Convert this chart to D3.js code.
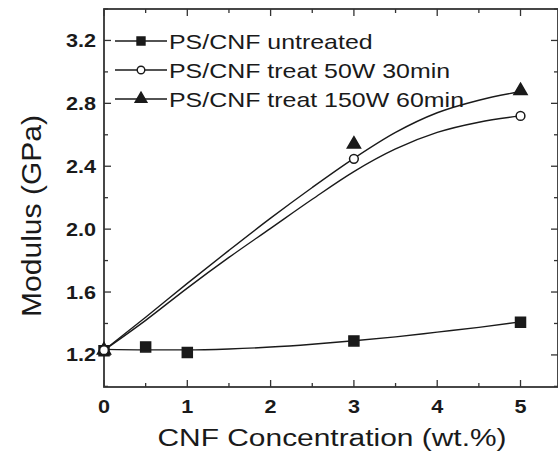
<!DOCTYPE html>
<html><head><meta charset="utf-8">
<script src="https://cdn.jsdelivr.net/npm/d3@7"></script>
<style>body{margin:0;background:#fff}svg{display:block}</style>
</head><body><svg id="c" width="558" height="455"></svg>
<script>
// measured data points
const seriesNames = ["PS/CNF untreated", "PS/CNF treat 50W 30min", "PS/CNF treat 150W 60min"];
const untreatedX = [0, 0.5, 1, 3, 5];
const untreatedY = [1.226, 1.251, 1.215, 1.289, 1.408];
const treat50X = [0, 3, 5];
const treat50Y = [1.23, 2.447, 2.72];
const treat150X = [0, 3, 5];
const treat150Y = [1.23, 2.54, 2.88];
// fitted curves
const fitX = [0, 0.5, 1, 1.5, 2, 2.5, 3, 3.5, 4, 4.5, 5];
const fitUntreated = [1.235, 1.232, 1.232, 1.238, 1.25, 1.268, 1.29, 1.315, 1.345, 1.375, 1.41];
const fit50 = [1.23, 1.42, 1.625, 1.82, 2.005, 2.19, 2.366, 2.51, 2.615, 2.68, 2.72];
const fit150 = [1.23, 1.44, 1.655, 1.865, 2.07, 2.265, 2.45, 2.615, 2.74, 2.82, 2.875];
const xTicks = [0, 1, 2, 3, 4, 5];
const yTicks = [1.2, 1.6, 2.0, 2.4, 2.8, 3.2];

const svg = d3.select("#c");
const L = 104, R = 558, T = 9, B = 387;
const x = d3.scaleLinear().domain([0, 5.45]).range([L, R]);
const y = d3.scaleLinear().domain([0.996, 3.4]).range([B, T]);
const ink = "#1a1a1a";
const FONT = "Liberation Sans, Arial, sans-serif";

function stretch(sel, k) {
  sel.each(function () {
    const w = this.getComputedTextLength();
    d3.select(this).attr("textLength", w * k).attr("lengthAdjust", "spacingAndGlyphs");
  });
}

// frame
svg.append("rect").attr("x", L).attr("y", T).attr("width", R - L).attr("height", B - T)
  .attr("fill", "none").attr("stroke", "#333").attr("stroke-width", 1.8);

const xMinor = d3.range(0.5, 5.5, 1);
const yMinor = d3.range(1.0, 3.41, 0.4).map(v => +v.toFixed(2));
const g = svg.append("g").attr("stroke", "#333").attr("stroke-width", 1.3);
xTicks.forEach(v => {
  g.append("line").attr("x1", x(v)).attr("x2", x(v)).attr("y1", B).attr("y2", B - 7);
  g.append("line").attr("x1", x(v)).attr("x2", x(v)).attr("y1", T).attr("y2", T + 7);
});
xMinor.forEach(v => {
  g.append("line").attr("x1", x(v)).attr("x2", x(v)).attr("y1", B).attr("y2", B - 4);
  g.append("line").attr("x1", x(v)).attr("x2", x(v)).attr("y1", T).attr("y2", T + 4);
});
yTicks.forEach(v => {
  g.append("line").attr("x1", L).attr("x2", L + 7).attr("y1", y(v)).attr("y2", y(v));
  g.append("line").attr("x1", R).attr("x2", R - 7).attr("y1", y(v)).attr("y2", y(v));
});
yMinor.forEach(v => {
  g.append("line").attr("x1", L).attr("x2", L + 4).attr("y1", y(v)).attr("y2", y(v));
  g.append("line").attr("x1", R).attr("x2", R - 4).attr("y1", y(v)).attr("y2", y(v));
});

// tick labels
const xl = svg.append("g").selectAll("text").data(xTicks).join("text")
  .attr("x", d => x(d)).attr("y", 413).attr("text-anchor", "middle")
  .attr("font-family", FONT).attr("font-weight", "bold")
  .attr("font-size", 18).attr("fill", ink).text(d => d3.format("d")(d));
stretch(xl, 1.2);
const yl = svg.append("g").selectAll("text").data(yTicks).join("text")
  .attr("x", 96).attr("y", d => y(d) + 6.5).attr("text-anchor", "end")
  .attr("font-family", FONT).attr("font-weight", "bold")
  .attr("font-size", 18).attr("fill", ink).text(d => d3.format(".1f")(d));
stretch(yl, 1.2);

// axis titles
const xt = svg.append("text").attr("x", 332).attr("y", 446).attr("text-anchor", "middle")
  .attr("font-family", FONT).attr("font-size", 23).attr("fill", ink)
  .text("CNF Concentration (wt.%)");
xt.attr("textLength", 349).attr("lengthAdjust", "spacingAndGlyphs");
const yt = svg.append("text").attr("transform", "translate(41,216) rotate(-90)").attr("text-anchor", "middle")
  .attr("font-family", FONT).attr("font-size", 27).attr("fill", ink)
  .text("Modulus (GPa)");
yt.attr("textLength", 202).attr("lengthAdjust", "spacingAndGlyphs");

// fitted curves
const line = d3.line().x(d => x(d[0])).y(d => y(d[1])).curve(d3.curveMonotoneX);
[fitUntreated, fit50, fit150].forEach(arr => {
  svg.append("path").attr("d", line(fitX.map((v, i) => [v, arr[i]])))
    .attr("fill", "none").attr("stroke", ink).attr("stroke-width", 1.4);
});

// markers
const sq = d3.symbol().type(d3.symbolSquare).size(100);
const ci = d3.symbol().type(d3.symbolCircle).size(60);
const tr = d3.symbol().type(d3.symbolTriangle).size(75);
function markers(xs, ys, sym, fill) {
  svg.append("g").selectAll("path").data(xs.map((v, i) => [v, ys[i]])).join("path")
    .attr("transform", d => `translate(${x(d[0])},${y(d[1])})`).attr("d", sym)
    .attr("fill", fill).attr("stroke", ink).attr("stroke-width", 1.5);
}
markers(untreatedX, untreatedY, sq, ink);
markers(treat150X, treat150Y, tr, ink);
markers(treat50X, treat50Y, ci, "#fff");

// legend
const legSyms = [
  [d3.symbol().type(d3.symbolSquare).size(64), ink],
  [d3.symbol().type(d3.symbolCircle).size(45), "#fff"],
  [d3.symbol().type(d3.symbolTriangle).size(60), ink]
];
const legTexts = [];
seriesNames.forEach((name, i) => {
  const ly = 41 + i * 29;
  svg.append("line").attr("x1", 115).attr("x2", 167).attr("y1", ly).attr("y2", ly)
    .attr("stroke", ink).attr("stroke-width", 1.4);
  svg.append("path").attr("transform", `translate(141,${ly})`).attr("d", legSyms[i][0])
    .attr("fill", legSyms[i][1]).attr("stroke", ink).attr("stroke-width", 1.4);
  legTexts.push(svg.append("text").attr("x", 169).attr("y", ly + 7.5)
    .attr("font-family", FONT).attr("font-size", 21).attr("fill", ink)
    .text(name));
});
const kLeg = 295 / legTexts[2].node().getComputedTextLength();
legTexts.forEach(t => stretch(t, kLeg));
</script></body></html>
